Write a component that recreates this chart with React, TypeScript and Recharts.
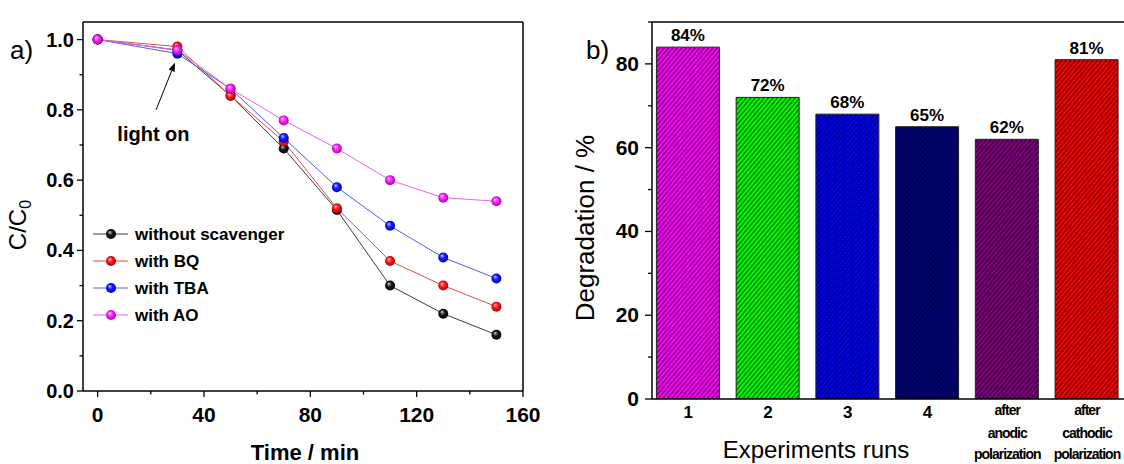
import React from 'react';
import {
  LineChart, Line, XAxis, YAxis, BarChart, Bar, Cell, LabelList,
  ReferenceLine, ReferenceDot, Legend,
} from 'recharts';

// ---------- data (panel a) ----------
const times = [0, 30, 50, 70, 90, 110, 130, 150];
const withoutScavenger = [1.0, 0.97, 0.84, 0.69, 0.515, 0.30, 0.22, 0.16];
const withBQ = [1.0, 0.98, 0.84, 0.71, 0.52, 0.37, 0.30, 0.24];
const withTBA = [1.0, 0.96, 0.86, 0.72, 0.58, 0.47, 0.38, 0.32];
const withAO = [1.0, 0.97, 0.86, 0.77, 0.69, 0.60, 0.55, 0.54];
const seriesNames = ['without scavenger', 'with BQ', 'with TBA', 'with AO'];
const timeTicks = [0, 20, 40, 60, 80, 100, 120, 140, 160];
const ratioTicks = [0, 0.1, 0.2, 0.3, 0.4, 0.5, 0.6, 0.7, 0.8, 0.9, 1.0];

// ---------- data (panel b) ----------
const runLabels = ['1', '2', '3', '4', 'after\nanodic\npolarization', 'after\ncathodic\npolarization'];
const degradation = [84, 72, 68, 65, 62, 81];
const degradationTicks = [0, 10, 20, 30, 40, 50, 60, 70, 80, 90];

// ---------- styles ----------
const FONT = '"Liberation Sans", Arial, Helvetica, sans-serif';
const lineColors = ['#3c3c3c', '#d85050', '#5a5ae6', '#e466e4'];
const sphereStops = [
  ['#d0d0d0', '#1a1a1a', '#000000'],
  ['#ffc0c0', '#ff1a1a', '#a00000'],
  ['#c0c0ff', '#1a1aff', '#0000a0'],
  ['#ffd0ff', '#ff22ff', '#a000a0'],
];
const barColors = ['#ff00ff', '#00ff00', '#0000ff', '#000080', '#800080', '#ff0000'];

const seriesKeys = ['s0', 's1', 's2', 's3'];
const seriesValues = [withoutScavenger, withBQ, withTBA, withAO];
const lineData = times.map((t, i) => {
  const row: any = { t };
  seriesKeys.forEach((k, j) => (row[k] = seriesValues[j][i]));
  return row;
});
const barData = degradation.map((v, i) => ({ pos: i + 1, value: v, label: runLabels[i] }));
const runTicks = runLabels.map((_, i) => i + 1);

// ---------- custom ticks ----------
const LeftYTick = (p: any) => {
  const { x, y, payload } = p;
  const v = payload.value;
  const major = Math.round(v * 10) % 2 === 0;
  return (
    <g>
      <line x1={x} x2={x - (major ? 6 : 3.5)} y1={y} y2={y} stroke="#000" strokeWidth={1.3} />
      {major && (
        <text x={x - 9} y={y + 7} textAnchor="end" fontFamily={FONT} fontWeight="bold" fontSize={20} fill="#000">
          {v.toFixed(1)}
        </text>
      )}
    </g>
  );
};

const LeftXTick = (p: any) => {
  const { x, y, payload } = p;
  const v = payload.value;
  const major = v % 40 === 0;
  return (
    <g>
      <line x1={x} x2={x} y1={y} y2={y + (major ? 6 : 3.5)} stroke="#000" strokeWidth={1.3} />
      {major && (
        <text x={x} y={y + 31} textAnchor="middle" fontFamily={FONT} fontWeight="bold" fontSize={21} fill="#000">
          {v}
        </text>
      )}
    </g>
  );
};

const RightYTick = (p: any) => {
  const { x, y, payload } = p;
  const v = payload.value;
  const major = v % 20 === 0;
  return (
    <g>
      <line x1={x} x2={x - (major ? 7 : 4)} y1={y} y2={y} stroke="#000" strokeWidth={1.3} />
      {major && (
        <text x={x - 13} y={y + 7} textAnchor="end" fontFamily={FONT} fontWeight="bold" fontSize={21} fill="#000">
          {v}
        </text>
      )}
    </g>
  );
};

const RunTick = (p: any) => {
  const { x, y, payload } = p;
  const label = runLabels[Math.round(payload.value) - 1] || '';
  const lines = label.split('\n');
  if (lines.length === 1) {
    return (
      <text x={x} y={y + 19} textAnchor="middle" fontFamily={FONT} fontWeight="bold" fontSize={17} fill="#000">
        {label}
      </text>
    );
  }
  const offs = [16, 39, 60];
  return (
    <g>
      {lines.map((s, i) => (
        <text key={i} x={x} y={y + offs[i]} textAnchor="middle" fontFamily={FONT} fontWeight="bold"
          fontSize={14} letterSpacing={-1} fill="#000">
          {s}
        </text>
      ))}
    </g>
  );
};

const ArrowShape = (p: any) => {
  const { x1, y1, x2, y2 } = p;
  if ([x1, y1, x2, y2].some((v) => typeof v !== 'number')) return null;
  const ang = Math.atan2(y2 - y1, x2 - x1);
  const L = 9, W = 3.2;
  const bx = x2 - L * Math.cos(ang), by = y2 - L * Math.sin(ang);
  const px = -Math.sin(ang) * W, py = Math.cos(ang) * W;
  return (
    <g>
      <line x1={x1} y1={y1} x2={bx} y2={by} stroke="#000" strokeWidth={1} />
      <polygon points={`${x2},${y2} ${bx + px},${by + py} ${bx - px},${by - py}`} fill="#000" />
    </g>
  );
};

const LightOnText = (p: any) => (
  <text x={p.cx} y={p.cy} textAnchor="middle" fontFamily={FONT} fontWeight="bold" fontSize={20} fill="#000">
    light on
  </text>
);

const LegendContent = (p: any) => {
  const payload = [...(p.payload || [])].sort(
    (a: any, b: any) => seriesNames.indexOf(a.value) - seriesNames.indexOf(b.value),
  );
  return (
    <svg width={230} height={110} style={{ display: 'block', overflow: 'visible' }}>
      {payload.map((e: any, i: number) => {
        const idx = seriesNames.indexOf(e.value);
        const cy = 12 + i * 27;
        return (
          <g key={i}>
            <line x1={3} x2={38} y1={cy} y2={cy} stroke={lineColors[idx]} strokeWidth={1.2} />
            <circle cx={21} cy={cy} r={5} fill={`url(#sph${idx})`} />
            <text x={45} y={cy + 6} fontFamily={FONT} fontWeight="bold" fontSize={17} fill="#000">
              {e.value}
            </text>
          </g>
        );
      })}
    </svg>
  );
};

const axisStyle = { stroke: '#000', strokeWidth: 1.5 };

export default function App() {
  return (
    <div style={{ position: 'relative', width: 1124, height: 464, overflow: 'hidden', background: '#fff' }}>
      <style>{'body{margin:0;background:#fff}'}</style>

      <div style={{ position: 'absolute', left: 0, top: 0 }}>
        <LineChart width={560} height={464} data={lineData} margin={{ top: 22, right: 37, bottom: 0, left: 0 }}>
          <defs>
            {sphereStops.map((s, i) => (
              <radialGradient key={i} id={`sph${i}`} cx="50%" cy="50%" r="55%" fx="35%" fy="30%">
                <stop offset="0%" stopColor={s[0]} />
                <stop offset="45%" stopColor={s[1]} />
                <stop offset="100%" stopColor={s[2]} />
              </radialGradient>
            ))}
          </defs>
          <XAxis dataKey="t" type="number" domain={[-5.5, 160]} ticks={timeTicks} interval={0}
            allowDataOverflow tick={<LeftXTick />} tickLine={false} tickSize={0} tickMargin={0}
            axisLine={axisStyle} height={73} />
          <YAxis type="number" domain={[0, 1.05]} ticks={ratioTicks} interval={0} allowDataOverflow
            tick={<LeftYTick />} tickLine={false} tickSize={0} tickMargin={0} axisLine={axisStyle} width={83} />
          <ReferenceLine y={1.05} stroke="#000" strokeWidth={1.5} ifOverflow="visible" />
          <ReferenceLine x={160} stroke="#000" strokeWidth={1.5} ifOverflow="visible" />
          {seriesKeys.map((k, i) => (
            <Line key={k} dataKey={k} name={seriesNames[i]} type="linear" stroke={lineColors[i]}
              strokeWidth={1} isAnimationActive={false} activeDot={false}
              dot={{ r: 5, fill: `url(#sph${i})`, stroke: 'none' }} />
          ))}
          <ReferenceLine segment={[{ x: 22, y: 0.8 }, { x: 29.1, y: 0.935 }]} shape={ArrowShape} ifOverflow="visible" />
          <ReferenceDot x={21} y={0.71} r={1} shape={LightOnText} ifOverflow="visible" />
          <Legend layout="vertical" align="center" verticalAlign="middle" content={LegendContent}
            wrapperStyle={{ position: 'absolute', left: 90, top: 222, width: 230, height: 110 }} />
        </LineChart>
      </div>

      <div style={{ position: 'absolute', left: 560, top: 0 }}>
        <BarChart width={580} height={464} data={barData} margin={{ top: 22, right: 12, bottom: 0, left: 0 }}>
          <defs>
            {barColors.map((c, i) => (
              <pattern key={i} id={`hatch${i}`} patternUnits="userSpaceOnUse" width={3.4} height={3.4}
                patternTransform="rotate(40)">
                <rect width={3.4} height={3.4} fill={c} />
                <line x1={1.7} x2={1.7} y1={0} y2={3.4} stroke="#000" strokeWidth={0.9} strokeOpacity={0.85} />
              </pattern>
            ))}
          </defs>
          <XAxis dataKey="pos" type="number" domain={[0.545, 6.515]} ticks={runTicks} interval={0}
            allowDataOverflow tick={<RunTick />} tickLine={false} tickSize={0} tickMargin={0}
            axisLine={axisStyle} height={65} />
          <YAxis type="number" domain={[0, 90]} ticks={degradationTicks} interval={0} allowDataOverflow
            tick={<RightYTick />} tickLine={false} tickSize={0} tickMargin={0} axisLine={axisStyle} width={92} />
          <ReferenceLine y={90} stroke="#000" strokeWidth={1.5} ifOverflow="visible" />
          <Bar dataKey="value" barSize={63} stroke="#222" strokeWidth={1} isAnimationActive={false}>
            {barData.map((_, i) => (
              <Cell key={i} fill={`url(#hatch${i})`} />
            ))}
            <LabelList dataKey="value" content={(p: any) => (
              <text x={p.x + p.width / 2} y={p.y - 6} textAnchor="middle" fontFamily={FONT}
                fontWeight="bold" fontSize={17} fill="#000">
                {`${p.value}%`}
              </text>
            )} />
          </Bar>
        </BarChart>
      </div>

      <svg width={1124} height={464} style={{ position: 'absolute', left: 0, top: 0, pointerEvents: 'none' }}>
        <text x={10} y={59} fontFamily={FONT} fontSize={26} fill="#000">a)</text>
        <text x={586} y={59} fontFamily={FONT} fontSize={26} fill="#000">b)</text>
        <text x={26} y={225} transform="rotate(-90 26 225)" textAnchor="middle" fontFamily={FONT} fontSize={24} fill="#000">
          C/C<tspan fontSize={16} dy={5}>0</tspan>
        </text>
        <text x={305} y={460} textAnchor="middle" fontFamily={FONT} fontWeight="bold" fontSize={22} fill="#000">
          Time / min
        </text>
        <text x={594} y={228} transform="rotate(-90 594 228)" textAnchor="middle" fontFamily={FONT} fontSize={26} fill="#000">
          Degradation / %
        </text>
        <text x={816} y={458} textAnchor="middle" fontFamily={FONT} fontSize={24} fill="#000">
          Experiments runs
        </text>
      </svg>
    </div>
  );
}
